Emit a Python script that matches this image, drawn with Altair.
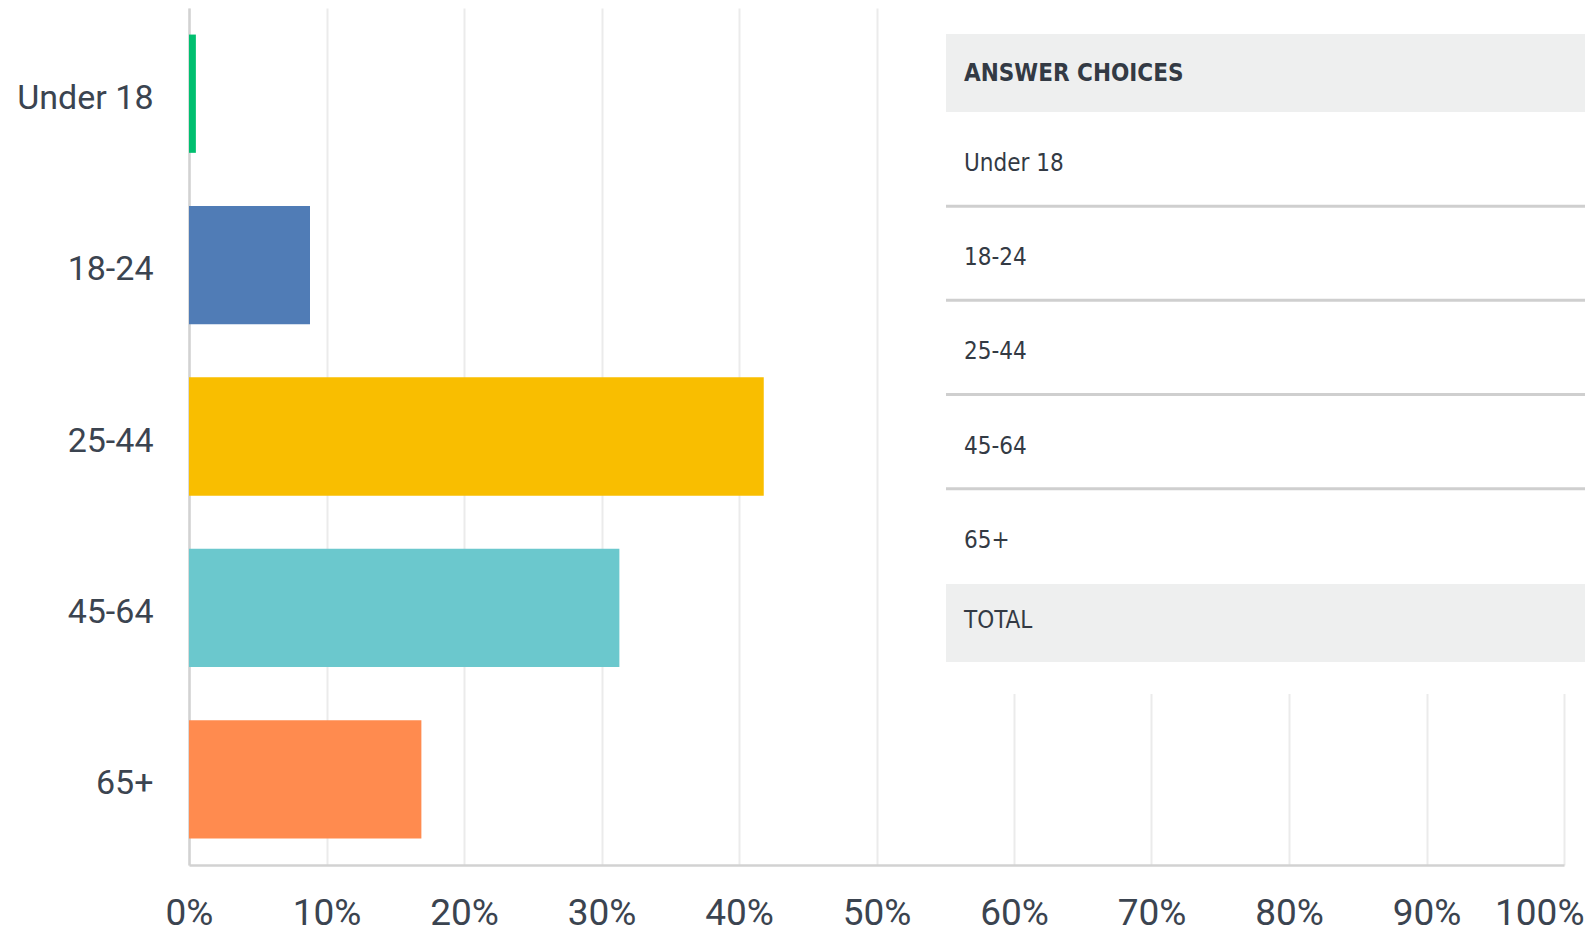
import altair as alt
import pandas as pd

categories = ["Under 18", "18-24", "25-44", "45-64", "65+"]
percents = [0.5, 8.8, 41.8, 31.3, 16.9]
colors = ["#00bf6f", "#507cb6", "#f9be00", "#6bc8cd", "#ff8b4f"]
x_ticks = [0, 10, 20, 30, 40, 50, 60, 70, 80, 90, 100]
table_rows = ["ANSWER CHOICES"] + categories + ["TOTAL"]
table_kind = ["header"] + ["body"] * len(categories) + ["total"]

bars_df = pd.DataFrame({"age": categories, "pct": percents})
table_df = pd.DataFrame({"row": table_rows, "kind": table_kind})

TEXT = "#3b4450"
W, H = 1375, 857

bars = alt.Chart(bars_df).mark_bar().encode(
    x=alt.X("pct:Q", scale=alt.Scale(domain=[0, 100], nice=False),
            axis=alt.Axis(values=x_ticks, labelExpr="datum.value + '%'", title=None,
                          grid=True, gridColor="#ebebeb", gridWidth=2, ticks=False,
                          domainColor="#d2d2d2", domainWidth=2.5,
                          labelFont="Roboto", labelFontSize=37, labelColor=TEXT,
                          labelPadding=30, labelFlush=False,
                          labelAlign={"condition": {"test": "datum.value == 100", "value": "right"}, "value": "center"},
                          labelOffset={"condition": {"test": "datum.value == 100", "value": 20}, "value": 0})),
    y=alt.Y("age:N", sort=categories,
            scale=alt.Scale(paddingInner=0.31, paddingOuter=0.155),
            axis=alt.Axis(title=None, ticks=False, grid=False, domainColor="#d2d2d2",
                          domainWidth=2.5, labelFont="Roboto", labelFontSize=34,
                          labelColor=TEXT, labelPadding=36, labelOffset=5)),
    color=alt.Color("age:N", scale=alt.Scale(domain=categories, range=colors), legend=None),
)

tscale = alt.Scale(domain=table_rows, range=[9.8, 669.1], paddingInner=0, paddingOuter=0)
ty = alt.Y("row:N", sort=table_rows, scale=tscale, axis=None)

base = alt.Chart(table_df)

white_box = base.transform_filter("datum.kind == 'header'").mark_rect(color="white").encode(
    x=alt.value(751), x2=alt.value(W + 40), y=alt.value(0), y2=alt.value(686)
)

grey_head = base.transform_filter("datum.kind == 'header'").mark_bar(
    size=78, color="#eeefef", orient="horizontal", yOffset=8
).encode(y=ty, x=alt.value(757), x2=alt.value(W + 40))

grey_total = base.transform_filter("datum.kind == 'total'").mark_bar(
    size=78, color="#eeefef", orient="horizontal", yOffset=-7
).encode(y=ty, x=alt.value(757), x2=alt.value(W + 40))

seps = base.transform_filter(
    "datum.kind == 'body' && datum.row != 'Under 18'"
).mark_rule(color="#cfcfcf", strokeWidth=3).encode(
    y=alt.Y("row:N", sort=table_rows, scale=tscale, axis=None, bandPosition=0),
    x=alt.value(757), x2=alt.value(W + 40)
)

font_narrow = "Liberation Sans Narrow, Arial Narrow, DejaVu Sans Condensed, sans-serif"
head_text = base.transform_filter("datum.kind == 'header'").mark_text(
    align="left", baseline="middle", font=font_narrow, fontSize=24, fontWeight="bold",
    color="#333a44", dy=9
).encode(y=ty, x=alt.value(775), text="row:N")

body_text = base.transform_filter("datum.kind == 'body'").mark_text(
    align="left", baseline="middle", font=font_narrow, fontSize=24, color="#333a44", dy=5
).encode(y=ty, x=alt.value(775), text="row:N")

total_text = base.transform_filter("datum.kind == 'total'").mark_text(
    align="left", baseline="middle", font=font_narrow, fontSize=24, color="#333a44", dy=-9
).encode(y=ty, x=alt.value(775), text="row:N")

table = alt.layer(white_box, grey_head, grey_total, seps, head_text, body_text, total_text)

chart = alt.layer(bars, table).resolve_scale(y="independent", color="independent").properties(
    width=W, height=H, autosize="none",
    padding={"left": 181, "top": 0, "right": 21, "bottom": 66},
).configure_view(stroke=None)

chart.save("out.html", embed_options={"renderer": "svg", "actions": False})
